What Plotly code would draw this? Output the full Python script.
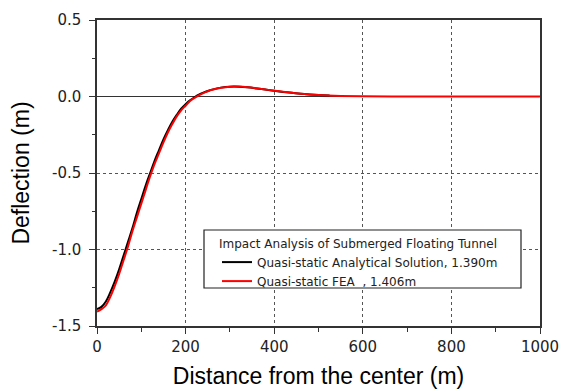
import plotly.graph_objects as go

# Analytical solution (black)
x_ana = [0, 10, 20, 30, 40, 50, 60, 70, 80, 90, 100, 110, 120, 130, 140, 150, 160, 170, 180, 190,
         200, 210, 220, 230, 240, 250, 260, 280, 300, 320, 340, 360, 380, 400, 420, 440, 460, 480, 500, 525]
y_ana = [-1.390, -1.375, -1.34, -1.28, -1.21, -1.13, -1.04, -0.95, -0.86, -0.76, -0.67, -0.58, -0.50,
         -0.42, -0.35, -0.28, -0.22, -0.165, -0.12, -0.08, -0.05, -0.025, -0.005, 0.012, 0.025, 0.036,
         0.045, 0.058, 0.064, 0.064, 0.060, 0.053, 0.045, 0.037, 0.030, 0.024, 0.018, 0.013, 0.009, 0.006]

# FEA (red)
x_fea = [0, 10, 20, 30, 40, 50, 60, 70, 80, 90, 100, 110, 120, 130, 140, 150, 160, 170, 180, 190,
         200, 210, 220, 230, 240, 250, 260, 280, 300, 320, 340, 360, 380, 400, 420, 440, 460, 480, 500,
         520, 550, 600, 700, 800, 900, 1000]
y_fea = [-1.406, -1.39, -1.365, -1.31, -1.24, -1.16, -1.07, -0.98, -0.88, -0.79, -0.70, -0.61, -0.52,
         -0.44, -0.37, -0.30, -0.235, -0.18, -0.13, -0.09, -0.06, -0.03, -0.01, 0.008, 0.022, 0.034,
         0.044, 0.057, 0.064, 0.065, 0.061, 0.054, 0.046, 0.038, 0.031, 0.024, 0.018, 0.013, 0.009,
         0.006, 0.003, 0.001, 0.0, 0.0, 0.0, 0.0]

names = ["Quasi-static Analytical Solution, 1.390m", "Quasi-static FEA  , 1.406m"]
legend_title = "Impact Analysis of Submerged Floating Tunnel"
x_ticks = [0, 200, 400, 600, 800, 1000]
y_ticks = [-1.5, -1.0, -0.5, 0.0, 0.5]

fig = go.Figure()
fig.add_trace(go.Scatter(x=x_ana, y=y_ana, mode="lines", name=names[0],
                         line=dict(color="black", width=2, shape="spline")))
fig.add_trace(go.Scatter(x=x_fea, y=y_fea, mode="lines", name=names[1],
                         line=dict(color="#ff0000", width=2, shape="spline")))

# legend box (plot area spans 443 x 306 px; reference pixel positions relative to it)
fig.add_shape(type="rect", xref="paper", yref="paper",
              x0=(204 - 97) / 443, x1=(521 - 97) / 443,
              y0=(326 - 288) / 306, y1=(326 - 230) / 306,
              line=dict(color="#222", width=1.2), fillcolor="white", layer="above")

tickfont = dict(family="DejaVu Sans", size=15, color="#222")
fig.update_layout(
    width=569, height=390,
    margin=dict(l=89, r=37, t=12, b=72),
    paper_bgcolor="white", plot_bgcolor="white",
    font=dict(family="Liberation Sans", color="black"),
    showlegend=True,
    legend=dict(x=(217 - 97) / 443, y=(326 - 232) / 306, xanchor="left", yanchor="top",
                bgcolor="rgba(0,0,0,0)", borderwidth=0,
                font=dict(family="DejaVu Sans", size=12, color="#222"),
                title=dict(text=legend_title, font=dict(family="DejaVu Sans", size=12, color="#222")),
                tracegroupgap=0),
    xaxis=dict(range=[0, 1000], tickvals=x_ticks, ticktext=[str(v) for v in x_ticks],
               automargin=False,
               showline=True, linecolor="#333", linewidth=1.5, mirror=True,
               ticks="outside", ticklen=6, tickcolor="#333", tickwidth=1.2,
               minor=dict(dtick=100, ticks="outside", ticklen=4, tickcolor="#333", showgrid=False),
               showgrid=True, gridcolor="#555", griddash="dot", gridwidth=1,
               zeroline=False, tickfont=tickfont,
               title=dict(text="Distance from the center (m)", font=dict(size=23, color="black"), standoff=13)),
    yaxis=dict(range=[-1.5, 0.5], tickvals=y_ticks, ticktext=["%.1f" % v for v in y_ticks],
               automargin=False,
               showline=True, linecolor="#333", linewidth=1.5, mirror=True,
               ticks="outside", ticklen=6, tickcolor="#333", tickwidth=1.2,
               ticklabelstandoff=5,
               minor=dict(dtick=0.25, ticks="outside", ticklen=3, tickcolor="#333", showgrid=False),
               showgrid=True, gridcolor="#555", griddash="dot", gridwidth=1,
               zeroline=True, zerolinecolor="#333", zerolinewidth=1.2, tickfont=tickfont,
               title=dict(text="Deflection (m)", font=dict(size=23, color="black"), standoff=18)),
)

fig.write_html("out.html")
